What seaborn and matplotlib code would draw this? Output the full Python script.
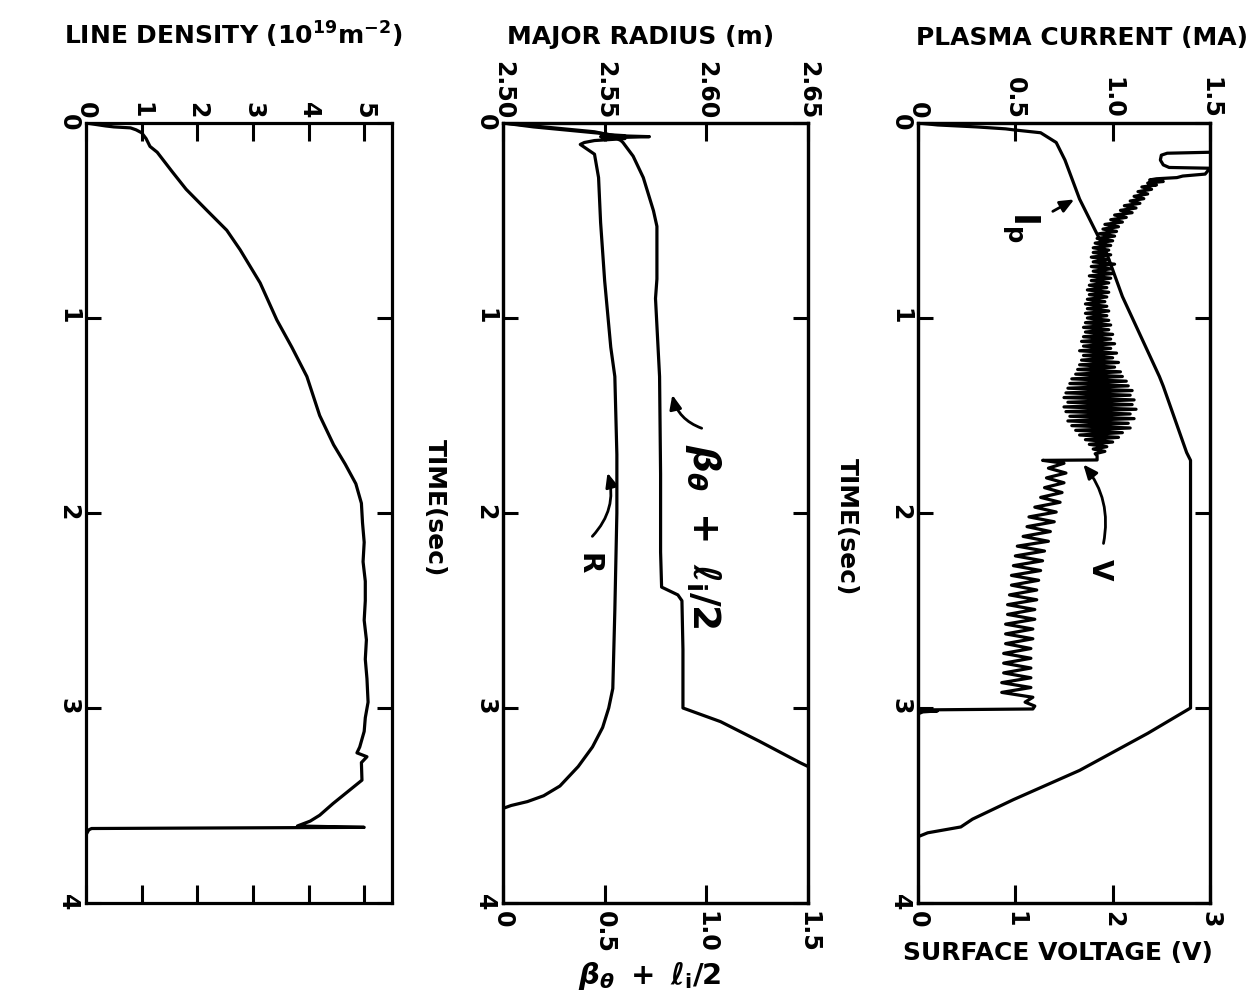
import matplotlib
matplotlib.use("Agg")
import matplotlib.pyplot as plt
import seaborn as sns
import numpy as np

# ---------------- data ----------------
# Panel 1: line density (1e19 m^-2) vs time (s)
dens_t = [0.0, 0.015, 0.02, 0.025, 0.035, 0.05, 0.08, 0.12, 0.15, 0.25, 0.34, 0.45,
          0.55, 0.65, 0.82, 1.01, 1.15, 1.30, 1.50, 1.65, 1.75, 1.85, 1.95, 2.05,
          2.15, 2.25, 2.35, 2.45, 2.55, 2.65, 2.75, 2.85, 2.97, 3.05, 3.12, 3.20,
          3.23, 3.25, 3.28, 3.37, 3.43, 3.49, 3.55, 3.58, 3.605, 3.612, 3.618,
          3.625, 3.65, 4.0]
dens_n = [0.0, 0.35, 0.5, 0.8, 0.9, 1.0, 1.08, 1.15, 1.28, 1.55, 1.80, 2.18,
          2.53, 2.77, 3.13, 3.43, 3.70, 3.97, 4.20, 4.45, 4.66, 4.85, 4.95, 4.97,
          5.00, 4.98, 5.02, 5.02, 5.00, 5.04, 5.02, 5.05, 5.07, 5.02, 5.00, 4.92,
          4.87, 5.05, 4.95, 4.96, 4.70, 4.44, 4.20, 4.03, 3.80, 5.00, 0.10,
          0.05, 0.0, 0.0]

# Panel 2: major radius R (m) and beta_theta + l_i/2
rad_t = [0.0, 0.01, 0.02, 0.03, 0.045, 0.06, 0.065, 0.07, 0.08, 0.09, 0.10, 0.11,
         0.16, 0.28, 0.51, 0.81, 1.15, 1.30, 1.70, 2.00, 2.50, 2.90, 3.00, 3.10,
         3.20, 3.30, 3.40, 3.45, 3.48, 3.50, 3.515]
rad_r = [2.500, 2.510, 2.520, 2.530, 2.545, 2.552, 2.560, 2.548, 2.560, 2.545,
         2.540, 2.538, 2.545, 2.547, 2.548, 2.550, 2.553, 2.555, 2.556, 2.556,
         2.555, 2.554, 2.552, 2.549, 2.544, 2.537, 2.528, 2.520, 2.512, 2.504,
         2.500]
beta_t = [0.0, 0.02, 0.04, 0.055, 0.065, 0.07, 0.075, 0.09, 0.10, 0.17, 0.28,
          0.45, 0.53, 0.80, 0.90, 1.30, 1.80, 2.20, 2.38, 2.42, 2.45, 2.70, 3.00,
          3.07, 3.17, 3.28, 3.30]
beta_v = [0.0, 0.15, 0.35, 0.50, 0.55, 0.72, 0.55, 0.58, 0.59, 0.64, 0.69,
          0.74, 0.757, 0.757, 0.75, 0.77, 0.775, 0.775, 0.78, 0.86, 0.88, 0.885,
          0.885, 1.07, 1.26, 1.46, 1.50]

# Panel 3: plasma current Ip (MA) and surface voltage V (V)
ip_t = [0.0, 0.01, 0.02, 0.03, 0.035, 0.05, 0.10, 0.19, 0.39, 0.67, 0.89, 1.30,
        1.35, 1.69, 1.73, 3.00, 3.13, 3.32, 3.47, 3.57, 3.61, 3.64, 3.66, 4.0]
ip_a = [0.0, 0.10, 0.30, 0.45, 0.49, 0.63, 0.71, 0.755, 0.83, 0.97, 1.05, 1.24,
        1.26, 1.38, 1.40, 1.40, 1.18, 0.83, 0.49, 0.28, 0.22, 0.05, 0.0, 0.0]

volt_t = [0.150, 0.155, 0.165, 0.190, 0.215, 0.228, 0.232, 0.262, 0.272, 0.280,
          0.286, 0.292, 0.300, 0.308, 0.318, 0.328, 0.340, 0.352, 0.364, 0.376,
          0.388, 0.400, 0.412, 0.424, 0.436, 0.448, 0.460, 0.472, 0.484, 0.496,
          0.508, 0.520, 0.532, 0.544, 0.556, 0.568, 0.580, 0.592, 0.604, 0.616,
          0.628, 0.640, 0.652, 0.664, 0.676, 0.688, 0.700, 0.712, 0.724, 0.736,
          0.748, 0.760, 0.772, 0.784, 0.796, 0.808, 0.820, 0.832, 0.844, 0.856,
          0.868, 0.880, 0.892, 0.904, 0.916, 0.928, 0.940, 0.952, 0.964, 0.976,
          0.988, 1.000, 1.012, 1.024, 1.036, 1.048, 1.060, 1.072, 1.084, 1.096,
          1.108, 1.120, 1.132, 1.144, 1.156, 1.168, 1.180, 1.192, 1.204, 1.216,
          1.228, 1.240, 1.252, 1.264, 1.276, 1.288, 1.300, 1.312, 1.324, 1.336,
          1.348, 1.360, 1.372, 1.384, 1.396, 1.408, 1.420, 1.432, 1.444, 1.456,
          1.468, 1.480, 1.492, 1.504, 1.516, 1.528, 1.540, 1.552, 1.564, 1.576,
          1.588, 1.600, 1.612, 1.624, 1.636, 1.648, 1.660, 1.672, 1.684, 1.696,
          1.706, 1.728, 1.730,
          1.745, 1.770, 1.795, 1.820, 1.845, 1.870, 1.895, 1.920, 1.945, 1.970,
          1.995, 2.020, 2.045, 2.070, 2.095, 2.120, 2.145, 2.170, 2.195, 2.220,
          2.245, 2.270, 2.295, 2.320, 2.345, 2.370, 2.395, 2.420, 2.445, 2.470,
          2.495, 2.520, 2.545, 2.570, 2.595, 2.620, 2.645, 2.670, 2.695, 2.720,
          2.745, 2.770, 2.795, 2.820, 2.845, 2.870, 2.895, 2.920, 2.945, 2.970,
          2.990, 3.005, 3.010, 3.015, 3.020, 3.030, 4.000]
volt_v = [3.00, 2.56, 2.50, 2.49, 2.52, 2.58, 3.00, 2.95, 2.72, 2.66,
          2.45, 2.38, 2.52, 2.36, 2.45, 2.30, 2.40, 2.26, 2.36, 2.22,
          2.32, 2.18, 2.28, 2.12, 2.24, 2.08, 2.20, 2.02, 2.14, 1.98,
          2.10, 1.92, 2.06, 1.90, 2.04, 1.86, 2.02, 1.84, 2.00, 1.82,
          1.98, 1.80, 1.96, 1.80, 1.98, 1.78, 1.96, 1.80, 2.02, 1.78,
          1.98, 1.80, 2.00, 1.76, 1.98, 1.78, 1.96, 1.76, 1.94, 1.74,
          1.96, 1.76, 1.94, 1.74, 1.92, 1.72, 1.94, 1.74, 1.96, 1.72,
          1.94, 1.74, 1.96, 1.72, 1.98, 1.70, 1.96, 1.72, 2.00, 1.70,
          1.98, 1.68, 2.02, 1.70, 1.98, 1.66, 2.04, 1.70, 2.00, 1.68,
          2.06, 1.66, 2.02, 1.64, 2.08, 1.62, 2.10, 1.58, 2.14, 1.56,
          2.16, 1.54, 2.20, 1.52, 2.18, 1.50, 2.22, 1.54, 2.20, 1.50,
          2.24, 1.52, 2.18, 1.56, 2.22, 1.54, 2.16, 1.58, 2.18, 1.62,
          2.10, 1.66, 2.06, 1.72, 2.00, 1.76, 1.94, 1.80, 1.92, 1.82,
          1.84, 1.84, 1.28,
          1.50, 1.34, 1.52, 1.32, 1.50, 1.30, 1.48, 1.26, 1.46, 1.20,
          1.42, 1.14, 1.40, 1.12, 1.36, 1.08, 1.34, 1.02, 1.30, 1.00,
          1.28, 0.98, 1.26, 0.96, 1.24, 0.96, 1.22, 0.94, 1.22, 0.92,
          1.20, 0.92, 1.20, 0.90, 1.18, 0.90, 1.18, 0.90, 1.16, 0.88,
          1.16, 0.88, 1.16, 0.88, 1.16, 0.86, 1.16, 0.86, 1.18, 1.10,
          1.20, 1.18, 0.00, 0.20, 0.05, 0.00, 0.00]

time_ticks = [0, 1, 2, 3, 4]
dens_ticks = [0, 1, 2, 3, 4, 5]
rad_ticks = [2.50, 2.55, 2.60, 2.65]
rad_labels = ["2.50", "2.55", "2.60", "2.65"]
beta_ticks = [0, 0.5, 1.0, 1.5]
beta_labels = ["0", "0.5", "1.0", "1.5"]
ip_ticks = [0, 0.5, 1.0, 1.5]
ip_labels = ["0", "0.5", "1.0", "1.5"]
volt_ticks = [0, 1, 2, 3]

# ---------------- style ----------------
sns.set_theme(style="ticks")
plt.rcParams["font.family"] = ["DejaVu Sans"]
plt.rcParams["font.weight"] = "bold"
plt.rcParams["mathtext.fontset"] = "dejavusans"
plt.rcParams["text.color"] = "black"
plt.rcParams["xtick.color"] = "black"
plt.rcParams["ytick.color"] = "black"
plt.rcParams["xtick.labelcolor"] = "black"
plt.rcParams["ytick.labelcolor"] = "black"

LW = 2.3
TICKFS = 17
W, H = 1259, 1006

fig = plt.figure(figsize=(W / 100, H / 100), dpi=100)
fig.patch.set_facecolor("white")


def px_axes(x0, x1, y0=123, y1=903):
    return fig.add_axes([x0 / W, 1 - y1 / H, (x1 - x0) / W, (y1 - y0) / H])


def style_axes(ax):
    for s in ax.spines.values():
        s.set_linewidth(2.3)
        s.set_color("black")
    ax.set_facecolor("white")
    ax.set_ylim(4, 0)
    ax.set_yticks(time_ticks)
    ax.set_yticklabels([str(v) for v in time_ticks])
    ax.tick_params(axis="y", direction="in", left=True, right=True,
                   labelleft=True, labelright=False, length=11, width=2.2,
                   labelsize=TICKFS, labelrotation=-90, pad=4, color="black",
                   labelcolor="black")
    ax.tick_params(axis="x", direction="in", length=13, width=2.2,
                   labelsize=TICKFS, labelrotation=-90, color="black",
                   labelcolor="black")
    ax.set_xlabel("")
    ax.set_ylabel("")


line_kw = dict(color="black", linewidth=LW, sort=False, estimator=None, orient="y")
arrow_kw = dict(arrowstyle="-|>,head_length=0.7,head_width=0.3", color="black", lw=2.0)
beta_txt = r"$\beta_\theta\ +\ \ell_\mathrm{i}/2$"

# ---------------- panel 1: line density ----------------
ax1 = px_axes(86, 392)
sns.lineplot(x=dens_n, y=dens_t, ax=ax1, **line_kw)
ax1.set_xlim(0, 5.5)
style_axes(ax1)
ax1.set_xticks(dens_ticks)
ax1.set_xticklabels([str(v) for v in dens_ticks])
ax1.tick_params(axis="x", top=True, bottom=True, labeltop=True, labelbottom=False, pad=3)
fig.text(233 / W, 1 - 35 / H, r"LINE DENSITY (10$^{\mathbf{19}}$m$^{\mathbf{-2}}$)",
         ha="center", va="center", fontsize=18, color="black")

# ---------------- panel 2: major radius / beta ----------------
ax2 = px_axes(503, 808)
sns.lineplot(x=beta_v, y=beta_t, ax=ax2, **line_kw)
ax2.set_xlim(0, 1.5)
style_axes(ax2)
ax2.set_xticks(beta_ticks)
ax2.set_xticklabels(beta_labels)
ax2.tick_params(axis="x", top=False, bottom=True, labeltop=False, labelbottom=True, pad=6)

ax2t = ax2.twiny()
sns.lineplot(x=rad_r, y=rad_t, ax=ax2t, **line_kw)
ax2t.set_xlim(2.50, 2.65)
ax2t.set_xticks(rad_ticks)
ax2t.set_xticklabels(rad_labels)
ax2t.tick_params(axis="x", direction="in", top=True, bottom=False, labeltop=True,
                 labelbottom=False, length=13, width=2.2, labelsize=TICKFS,
                 labelrotation=-90, pad=3, color="black", labelcolor="black")
ax2t.set_xlabel("")
ax2t.set_ylabel("")
for s in ax2t.spines.values():
    s.set_linewidth(2.3)
    s.set_color("black")
ax2.set_ylim(4, 0)

fig.text(641 / W, 1 - 37 / H, "MAJOR RADIUS (m)", ha="center", va="center",
         fontsize=18, color="black")
fig.text(650 / W, 1 - 976 / H, beta_txt, ha="center", va="center",
         fontsize=21, color="black")
fig.text(435 / W, 1 - 508 / H, "TIME(sec)", ha="center", va="center",
         rotation=-90, fontsize=18, color="black")

# annotations panel 2 (beta units for x)
ax2.annotate("", xy=(0.83, 1.38), xytext=(0.99, 1.57),
             arrowprops=dict(connectionstyle="arc3,rad=-0.3", **arrow_kw))
ax2.text(0.985, 2.12, beta_txt, rotation=-90,
         ha="center", va="center", fontsize=27, color="black")
ax2.annotate("", xy=(0.51, 1.78), xytext=(0.43, 2.13),
             arrowprops=dict(connectionstyle="arc3,rad=0.3", **arrow_kw))
ax2.text(0.42, 2.26, "R", rotation=-90, ha="center", va="center",
         fontsize=20, color="black")

# ---------------- panel 3: plasma current / voltage ----------------
ax3 = px_axes(918, 1210)
sns.lineplot(x=volt_v, y=volt_t, ax=ax3, **line_kw)
ax3.set_xlim(0, 3)
style_axes(ax3)
ax3.set_xticks(volt_ticks)
ax3.set_xticklabels([str(v) for v in volt_ticks])
ax3.tick_params(axis="x", top=False, bottom=True, labeltop=False, labelbottom=True, pad=6)

ax3t = ax3.twiny()
sns.lineplot(x=ip_a, y=ip_t, ax=ax3t, **line_kw)
ax3t.set_xlim(0, 1.5)
ax3t.set_xticks(ip_ticks)
ax3t.set_xticklabels(ip_labels)
ax3t.tick_params(axis="x", direction="in", top=True, bottom=False, labeltop=True,
                 labelbottom=False, length=13, width=2.2, labelsize=TICKFS,
                 labelrotation=-90, pad=3, color="black", labelcolor="black")
ax3t.set_xlabel("")
ax3t.set_ylabel("")
for s in ax3t.spines.values():
    s.set_linewidth(2.3)
    s.set_color("black")
ax3.set_ylim(4, 0)

fig.text(1082 / W, 1 - 38 / H, "PLASMA CURRENT (MA)", ha="center", va="center",
         fontsize=18, color="black")
fig.text(1058 / W, 1 - 953 / H, "SURFACE VOLTAGE (V)", ha="center", va="center",
         fontsize=18, color="black")
fig.text(847 / W, 1 - 527 / H, "TIME(sec)", ha="center", va="center",
         rotation=-90, fontsize=18, color="black")

# annotations panel 3 (voltage units for x)
ax3.annotate("", xy=(1.63, 0.385), xytext=(1.36, 0.46), arrowprops=dict(**arrow_kw))
ax3.text(1.05, 0.53, r"$\mathrm{I_p}$", rotation=-90, ha="center", va="center",
         fontsize=25, color="black")
ax3.annotate("", xy=(1.68, 1.74), xytext=(1.90, 2.17),
             arrowprops=dict(connectionstyle="arc3,rad=0.25", **arrow_kw))
ax3.text(1.87, 2.29, "V", rotation=-90, ha="center", va="center",
         fontsize=20, color="black")

fig.savefig("out.png", dpi=100, facecolor="white")
